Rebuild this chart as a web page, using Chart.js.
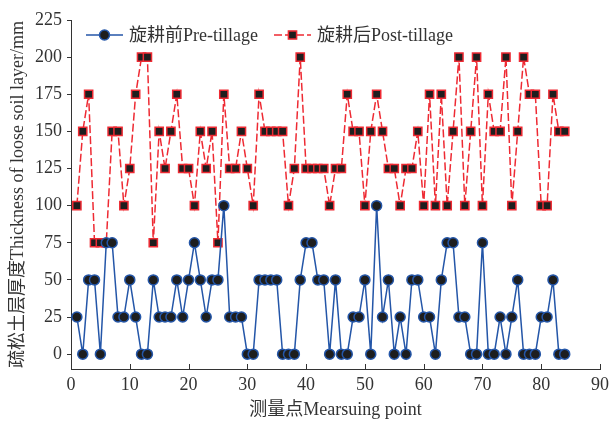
<!DOCTYPE html>
<html>
<head>
<meta charset="utf-8">
<script src="https://cdn.jsdelivr.net/npm/chart.js@4"></script>
<style>
  html, body { margin: 0; padding: 0; background: #fff; }
  #wrap { width: 611px; height: 421px; }
</style>
</head>
<body>
<div id="wrap"><canvas id="c" width="611" height="421"></canvas></div>
<script>
// Measuring points 1..84
const points = Array.from({length: 84}, (_, i) => i + 1);

// Loose soil layer thickness before rotary tillage (mm)
const preTillage = [
  25, 0, 50, 50, 0, 75, 75, 25, 25, 50, 25, 0, 0, 50, 25, 25, 25, 50, 25, 50, 75, 50,
  25, 50, 50, 100, 25, 25, 25, 0, 0, 50, 50, 50, 50, 0, 0, 0, 50, 75, 75, 50, 50, 0,
  50, 0, 0, 25, 25, 50, 0, 100, 25, 50, 0, 25, 0, 50, 50, 25, 25, 0, 50, 75, 75, 25,
  25, 0, 0, 75, 0, 0, 25, 0, 25, 50, 0, 0, 0, 25, 25, 50, 0, 0
];

// Loose soil layer thickness after rotary tillage (mm)
const postTillage = [
  100, 150, 175, 75, 75, 75, 150, 150, 100, 125, 175, 200, 200, 75, 150, 125, 150, 175, 125, 125, 100, 150,
  125, 150, 75, 175, 125, 125, 150, 125, 100, 175, 150, 150, 150, 150, 100, 125, 200, 125, 125, 125, 125, 100,
  125, 125, 175, 150, 150, 100, 150, 175, 150, 125, 125, 100, 125, 125, 150, 100, 175, 100, 175, 100, 150, 200,
  100, 150, 200, 100, 175, 150, 150, 200, 100, 150, 200, 175, 175, 100, 100, 175, 150, 150
];

const yTicks = [0, 25, 50, 75, 100, 125, 150, 175, 200, 225];
const seriesNames = ['旋耕前Pre-tillage', '旋耕后Post-tillage'];
const xTitle = '测量点Mearsuing point';
const yTitle = '疏松土层厚度Thickness of loose soil layer/mm';

const FONT = '"Liberation Serif", "Noto Sans CJK SC", serif';
const AXIS = '#333333';
const BLUE = '#2456a8';
const RED = '#ee2a33';
const FILL = '#1e1e1e';

// x-axis tick marks point up into the plot
const innerXTicks = {
  id: 'innerXTicks',
  afterDraw(chart) {
    const xs = chart.scales.x;
    const ctx = chart.ctx;
    const y0 = chart.chartArea.bottom;
    ctx.save();
    ctx.strokeStyle = AXIS;
    ctx.lineWidth = 1;
    xs.ticks.forEach(t => {
      const px = Math.round(xs.getPixelForValue(t.value)) + 0.5;
      ctx.beginPath();
      ctx.moveTo(px, y0);
      ctx.lineTo(px, y0 - 5);
      ctx.stroke();
    });
    ctx.restore();
  }
};

// Legend: line + marker + line, followed by the series name
const lineLegend = {
  id: 'lineLegend',
  afterDraw(chart) {
    const ctx = chart.ctx;
    const y = 35;
    const items = [
      {x: 86, ds: chart.data.datasets[0]},
      {x: 274, ds: chart.data.datasets[1]}
    ];
    ctx.save();
    items.forEach(({x, ds}) => {
      ctx.strokeStyle = ds.borderColor;
      ctx.lineWidth = 1.5;
      ctx.setLineDash(ds.borderDash || []);
      ctx.beginPath();
      ctx.moveTo(x, y);
      ctx.lineTo(x + 37, y);
      ctx.stroke();
      ctx.setLineDash([]);
      const el = {
        pointStyle: ds.pointStyle, radius: ds.pointRadius, rotation: 0,
        borderWidth: ds.pointBorderWidth
      };
      ctx.fillStyle = ds.pointBackgroundColor;
      ctx.strokeStyle = ds.pointBorderColor;
      ctx.lineWidth = ds.pointBorderWidth;
      Chart.helpers.drawPoint(ctx, el, x + 18.5, y);
      ctx.fillStyle = '#333';
      ctx.font = '18px ' + FONT;
      ctx.textBaseline = 'middle';
      ctx.textAlign = 'left';
      ctx.fillText(ds.label, x + 43, y + 1);
    });
    ctx.restore();
  }
};

new Chart(document.getElementById('c'), {
  type: 'line',
  data: {
    labels: points,
    datasets: [
      {
        label: seriesNames[0],
        data: points.map((p, i) => ({x: p, y: preTillage[i]})),
        borderColor: BLUE,
        borderWidth: 1.5,
        pointStyle: 'circle',
        pointRadius: 5,
        pointBorderWidth: 1.5,
        pointBackgroundColor: FILL,
        pointBorderColor: BLUE,
        tension: 0,
        fill: false
      },
      {
        label: seriesNames[1],
        data: points.map((p, i) => ({x: p, y: postTillage[i]})),
        borderColor: RED,
        borderWidth: 1.5,
        borderDash: [8, 3],
        pointStyle: 'rect',
        pointRadius: 5.8,
        pointBorderWidth: 1.5,
        pointBackgroundColor: FILL,
        pointBorderColor: RED,
        tension: 0,
        fill: false
      }
    ]
  },
  options: {
    responsive: false,
    animation: false,
    layout: { padding: { top: 20, right: 11, left: 0, bottom: 0 } },
    plugins: {
      legend: { display: false },
      tooltip: { enabled: false }
    },
    scales: {
      x: {
        type: 'linear',
        min: 0,
        max: 90,
        ticks: {
          stepSize: 10,
          color: '#333',
          font: { family: FONT, size: 18 },
          padding: 5,
          maxRotation: 0
        },
        grid: { drawOnChartArea: false, drawTicks: false },
        border: { display: true, color: AXIS, width: 1 },
        title: {
          display: true,
          text: xTitle,
          color: '#333',
          font: { family: FONT, size: 18 },
          padding: { top: 0, bottom: 0 }
        },
        afterFit(scale) {
          scale.height = 52;
          scale.paddingLeft = 0;
          scale.paddingRight = 0;
        }
      },
      y: {
        min: -10,
        max: 225,
        afterBuildTicks(scale) { scale.ticks = yTicks.map(v => ({value: v})); },
        ticks: {
          color: '#333',
          font: { family: FONT, size: 18 },
          padding: 5
        },
        grid: { drawOnChartArea: false, drawTicks: true, tickLength: 4, color: AXIS },
        border: { display: true, color: AXIS, width: 1 },
        title: {
          display: true,
          text: yTitle,
          color: '#333',
          font: { family: FONT, size: 18 },
          padding: { top: 7, bottom: 0 }
        },
        afterFit(scale) {
          scale.width = 71;
          scale.paddingTop = 0;
          scale.paddingBottom = 0;
        }
      }
    }
  },
  plugins: [innerXTicks, lineLegend]
});
</script>
</body>
</html>
